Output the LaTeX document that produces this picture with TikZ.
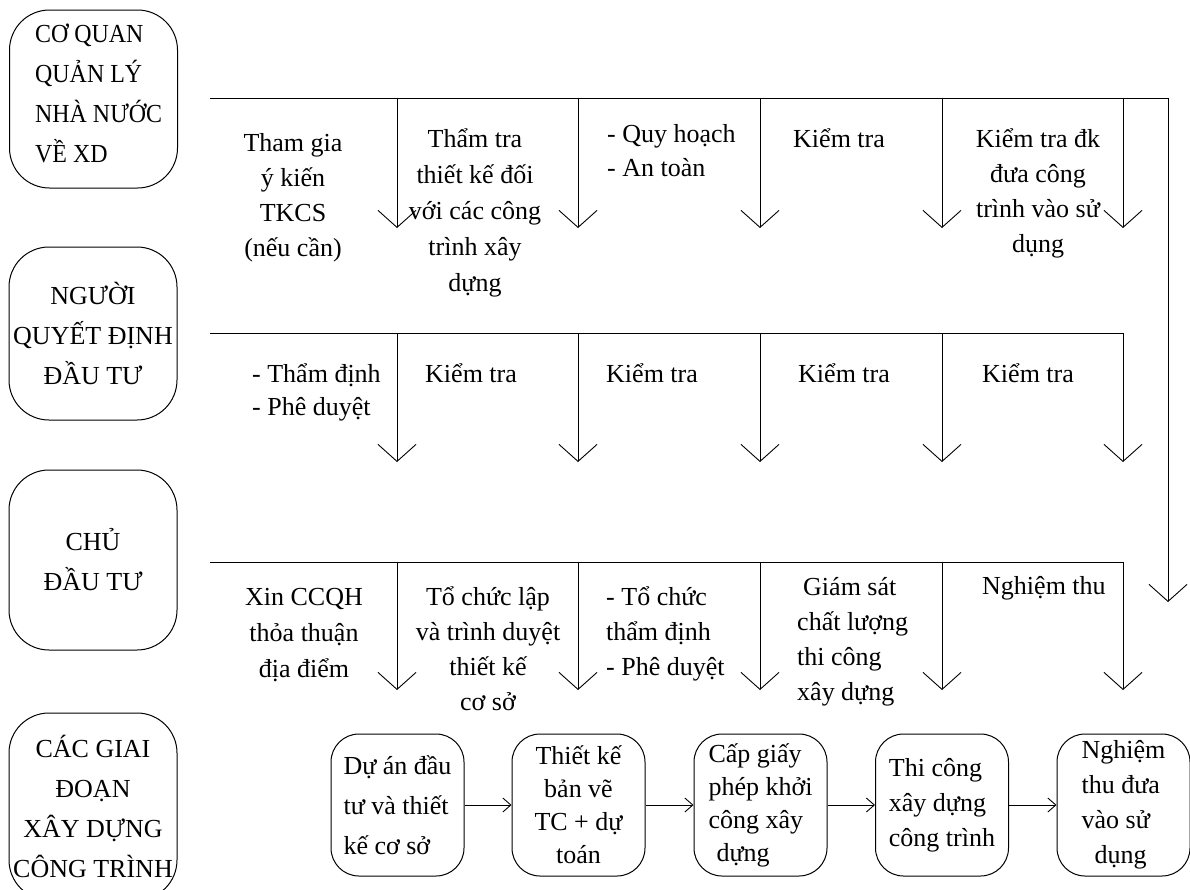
\documentclass[tikz,border=0pt]{standalone}
\usepackage{fontspec}
\setmainfont{Liberation Serif}
\usetikzlibrary{arrows.meta}
% font size 26pt with a chosen baseline skip
\newcommand\fsz[1]{\fontsize{26}{#1}\selectfont}
% fixes the height of a first text line
\newcommand\fl{\rule{0pt}{26pt}}
\begin{document}
\begin{tikzpicture}[x=1pt,y=-1pt,
  every node/.style={inner sep=0pt},
  party/.style={draw, line width=1pt, rounded corners=40pt, minimum width=168pt, font=\fsz{40}},
  stage/.style={draw, line width=1pt, rounded corners=28pt, minimum width=133pt, minimum height=142pt, font=\fsz{35}},
  flow/.style={line width=0.9pt},
  down/.style={flow, -{Straight Barb[length=17pt,width=38pt]}},
  next/.style={flow, -{Straight Barb[length=8pt,width=14pt]}},
  lblc/.style={anchor=north, align=center, font=\fsz{#1}},
  lbll/.style={anchor=north west, align=left, font=\fsz{#1}},
]
\useasboundingbox (0,0) rectangle (1190,889);

% actors on the left
\node[party, minimum height=178pt] (gov) at (93.5,99) {};
\node[lbll=40, font=\fsz{40}\addfontfeature{FakeStretch=0.92}] (govtext) at (35,16)
  {\fl CƠ QUAN\\QUẢN LÝ\\NHÀ NƯỚC\\VỀ XD};
\node[party, minimum height=173pt, align=center] (inv) at (93,333.5)
  {NGƯỜI\\QUYẾT ĐỊNH\\ĐẦU TƯ};
\node[party, minimum height=180pt, align=center] (own) at (93,560)
  {CHỦ\\ĐẦU TƯ};
\node[party, minimum height=187pt, align=center] (phase) at (93,806.5)
  {CÁC GIAI\\ĐOẠN\\XÂY DỰNG\\CÔNG TRÌNH};

% construction stages
\node[stage, align=left, font=\fsz{40}] (sA) at (397.5,805) {Dự án đầu\\tư và thiết\\kế cơ sở};
\node[stage, align=center, font=\fsz{33}] (sB) at (578.5,805) {Thiết kế\\bản vẽ\\TC + dự\\toán};
\node[stage, align=left, font=\fsz{33}] (sC) at (760.5,805) {Cấp giấy\\phép khởi\\công xây\\\hspace*{8pt}dựng};
\node[stage, align=left, font=\fsz{35}] (sD) at (942,805) {Thi công\\xây dựng\\công trình};
\node[stage, align=left, font=\fsz{35}] (sE) at (1123.5,805) {Nghiệm\\thu đưa\\vào sử\\\hspace*{13pt}dụng};

\draw[next] (sA.east) -- (sB.west);
\draw[next] (sB.east) -- (sC.west);
\draw[next] (sC.east) -- (sD.west);
\draw[next] (sD.east) -- (sE.west);

% branch points of the three rows
\foreach \r/\y/\t in {1/98/228, 2/333/462, 3/562/690} {
  \coordinate (r\r s) at (210,\y);
  \foreach \c/\x in {1/397,2/578,3/760,4/942,5/1123} {
    \coordinate (r\r c\c) at (\x,\y);
    \coordinate (r\r t\c) at (\x,\t);
  }
}
\coordinate (r1e) at (1168,98);
\coordinate (r1et) at (1168,602);

\draw[down] (r1s) -- (r1e) -- (r1et);
\foreach \c in {1,...,5} \draw[down] (r1c\c) -- (r1t\c);
\foreach \r in {2,3} {
  \draw[down] (r\r s) -- (r\r c5) -- (r\r t5);
  \foreach \c in {1,...,4} \draw[down] (r\r c\c) -- (r\r t\c);
}

% state management row
\node[lblc=35] (g1) at (293,125) {\fl Tham gia\\ý kiến\\TKCS\\(nếu cần)};
\node[lblc=36] (g2) at (475,121) {\fl Thẩm tra\\thiết kế đối\\với các công\\trình xây\\dựng};
\node[lbll=34] (g3) at (607,116) {\fl - Quy hoạch\\- An toàn};
\node[lbll=35] (g4) at (793,121) {\fl Kiểm tra};
\node[lblc=35] (g5) at (1038,121) {\fl Kiểm tra đk\\đưa công\\trình vào sử\\dụng};

% investment decision row
\node[lbll=33] (d1) at (252,356) {\fl - Thẩm định\\- Phê duyệt};
\node[lbll=33] (d2) at (425,356) {\fl Kiểm tra};
\node[lbll=33] (d3) at (606,356) {\fl Kiểm tra};
\node[lbll=33] (d4) at (798,356) {\fl Kiểm tra};
\node[lbll=33] (d5) at (982,356) {\fl Kiểm tra};

% owner row
\node[lblc=36] (o1) at (304,579) {\fl Xin CCQH\\thỏa thuận\\địa điểm};
\node[lblc=35] (o2) at (488,579) {\fl Tổ chức lập\\và trình duyệt\\thiết kế\\cơ sở};
\node[lbll=35] (o3) at (606,579) {\fl - Tổ chức\\thẩm định\\- Phê duyệt};
\node[lbll=35] (o4) at (797,569) {\fl \hspace*{6pt}Giám sát\\chất lượng\\thi công\\xây dựng};
\node[lbll=35] (o5) at (982,568) {\fl Nghiệm thu};
\end{tikzpicture}
\end{document}
